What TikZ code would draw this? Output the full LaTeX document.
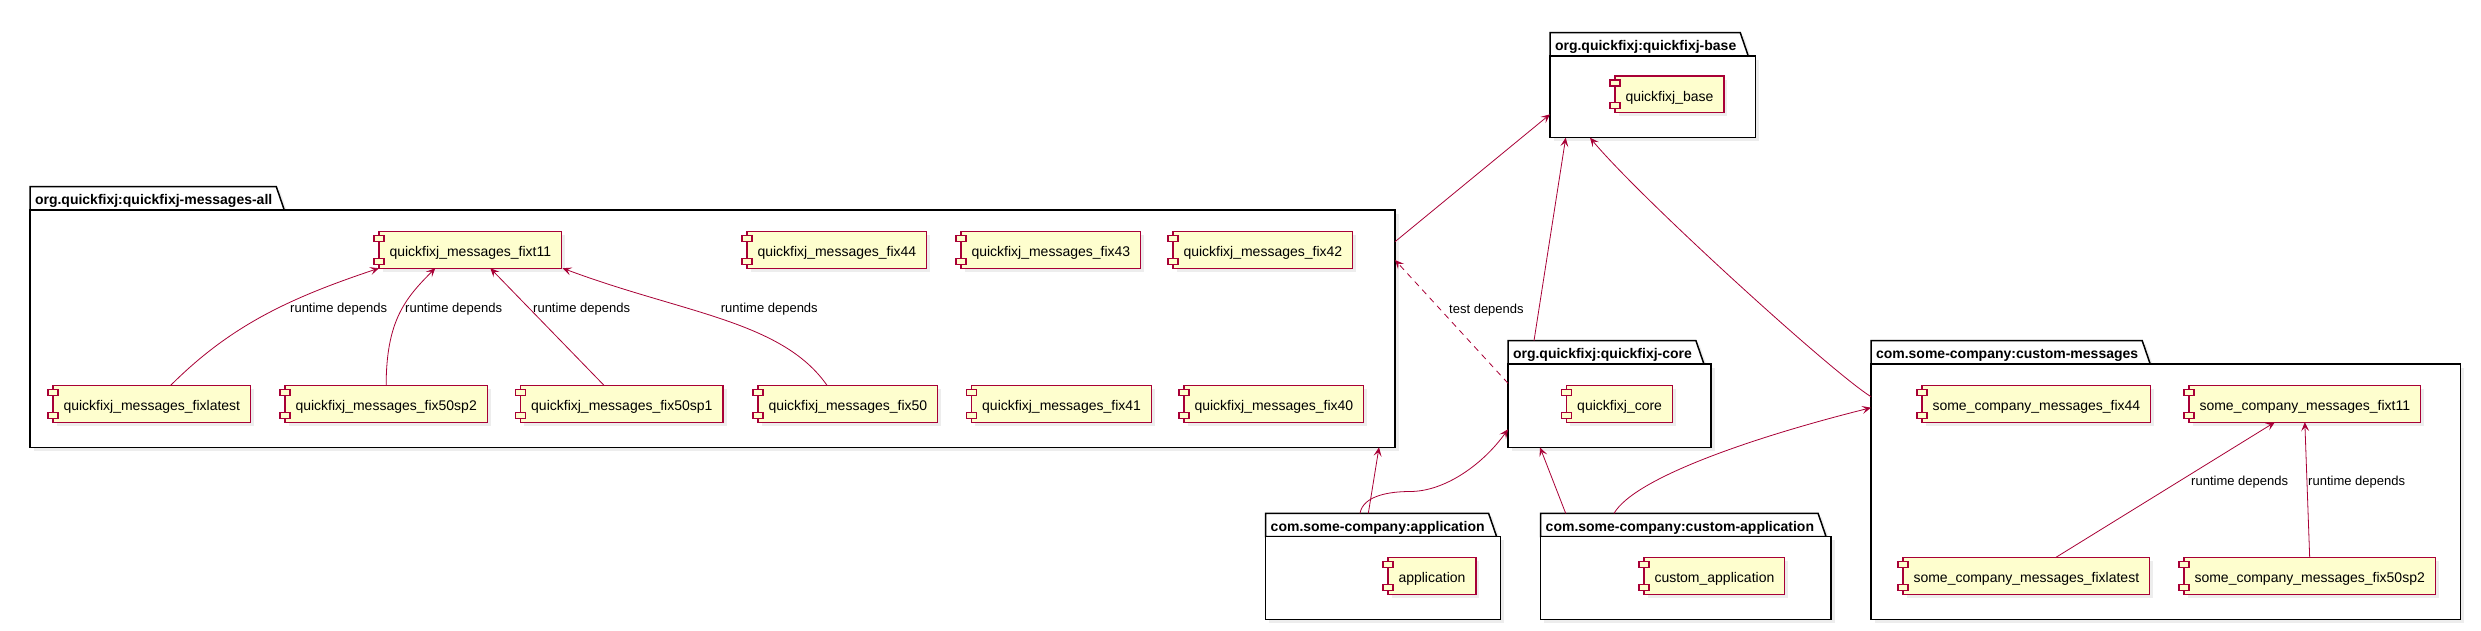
\documentclass[tikz,border=0pt]{standalone}
\usepackage{fontspec}
\setmainfont{Liberation Sans}
\usepackage{tikz}
\usetikzlibrary{arrows.meta,shadows,backgrounds}

\definecolor{umlred}{HTML}{A80036}
\definecolor{umlfill}{HTML}{FEFECE}

\tikzset{
  umlshadow/.style={drop shadow={shadow xshift=3.5pt,shadow yshift=-3.5pt,opacity=.14}},
  comp/.style={draw=umlred,fill=umlfill,line width=1.1pt,anchor=north west,
    minimum height=36.5pt,inner xsep=10.5pt,inner ysep=0pt,outer sep=0pt,
    text height=13.6pt,text depth=0pt,font=\fontsize{14}{16}\selectfont,umlshadow},
  lug/.style={draw=umlred,fill=umlfill,line width=1.1pt},
  pkg/.style={draw,fill=white,line width=1.5pt,anchor=north west,outer sep=0pt,umlshadow},
  pkgtab/.style={anchor=south west,inner xsep=5pt,inner ysep=0pt,outer sep=0pt,
    minimum height=23.3pt,text height=12pt,text depth=0pt,
    font=\bfseries\fontsize{14}{16}\selectfont},
  dep/.style={draw=umlred,line width=.8pt,-{Stealth[length=9pt,width=8pt,inset=4pt]}},
  lbl/.style={anchor=base west,inner sep=0pt,font=\fontsize{13}{15}\selectfont},
}

\begin{document}
\begin{tikzpicture}[x=1pt,y=-1pt]
        \useasboundingbox (0,0) rectangle (2481,630);

        % packages
        \node (pallt) [pkgtab] at (30,210) {org.quickfixj:quickfixj-messages-all};
        \node (pall) [pkg, minimum width=1365pt, minimum height=237.3pt] at (30,210) {};

        \node (pbaset) [pkgtab] at (1550,56) {org.quickfixj:quickfixj-base};
        \node (pbase) [pkg, minimum width=205.7pt, minimum height=81.7pt] at (1550,56) {};

        \node (pcoret) [pkgtab] at (1508,364) {org.quickfixj:quickfixj-core};
        \node (pcore) [pkg, minimum width=203pt, minimum height=83.3pt] at (1508,364) {};

        \node (pappt) [pkgtab] at (1265.7,536.7) {com.some-company:application};
        \node (papp) [pkg, minimum width=235pt, minimum height=82.6pt] at (1265.7,536.7) {};

        \node (pcappt) [pkgtab] at (1540.7,536.7) {com.some-company:custom-application};
        \node (pcapp) [pkg, minimum width=290.3pt, minimum height=82.6pt] at (1540.7,536.7) {};

        \node (pcmsgt) [pkgtab] at (1871,364) {com.some-company:custom-messages};
        \node (pcmsg) [pkg, minimum width=589.7pt, minimum height=255.3pt] at (1871,364) {};

        % folder tabs
        \begin{scope}[on background layer]
          \foreach \t in {pallt,pbaset,pcoret,pappt,pcappt,pcmsgt}
            \draw [line width=1.5pt, fill=white, umlshadow] (\t.south west) -- (\t.north west)
              -- ([xshift=-1pt]\t.north east) -- ([xshift=7pt]\t.south east) -- cycle;
        \end{scope}

        % quickfixj-messages-all
        \node (mfixt11) [comp] at (379,231.7) {quickfixj\_messages\_fixt11};
        \node (mfix44) [comp] at (747,231.7) {quickfixj\_messages\_fix44};
        \node (mfix43) [comp] at (961,231.7) {quickfixj\_messages\_fix43};
        \node (mfix42) [comp] at (1173,231.7) {quickfixj\_messages\_fix42};
        \node (mfixlatest) [comp] at (53,385.7) {quickfixj\_messages\_fixlatest};
        \node (mfix50sp2) [comp] at (285,385.7) {quickfixj\_messages\_fix50sp2};
        \node (mfix50sp1) [comp] at (520.7,385.7) {quickfixj\_messages\_fix50sp1};
        \node (mfix50) [comp] at (758,385.7) {quickfixj\_messages\_fix50};
        \node (mfix41) [comp] at (971.7,385.7) {quickfixj\_messages\_fix41};
        \node (mfix40) [comp] at (1184,385.7) {quickfixj\_messages\_fix40};

        % base, core, applications
        \node (cbase) [comp] at (1615,76) {quickfixj\_base};
        \node (ccore) [comp] at (1566.7,385.7) {quickfixj\_core};
        \node (capp) [comp] at (1388,557.7) {application};
        \node (ccustom) [comp] at (1644,557.7) {custom\_application};

        % custom-messages
        \node (sfix44) [comp] at (1922,385.7) {some\_company\_messages\_fix44};
        \node (sfixt11) [comp] at (2189,385.7) {some\_company\_messages\_fixt11};
        \node (sfixlatest) [comp] at (1903,557.7) {some\_company\_messages\_fixlatest};
        \node (sfix50sp2) [comp] at (2184,557.7) {some\_company\_messages\_fix50sp2};

        % component lugs
        \foreach \c in {mfixt11,mfix44,mfix43,mfix42,mfixlatest,mfix50sp2,mfix50sp1,mfix50,
            mfix41,mfix40,cbase,ccore,capp,ccustom,sfix44,sfixt11,sfixlatest,sfix50sp2} {
          \draw [lug] ([xshift=-5pt,yshift=-4pt]\c.north west) rectangle ++(10pt,-6pt);
          \draw [lug] ([xshift=-5pt,yshift=4pt]\c.south west) rectangle ++(10pt,6pt);
        }

        % runtime depends inside messages-all
        \draw [dep] ([xshift=18.5pt]mfixlatest.north) .. controls +(60,-60) and +(-90,30) .. (mfixt11.south west);
        \draw [dep] (mfix50sp2.north) .. controls +(0,-65) and +(-30,30) .. ([xshift=-35pt]mfixt11.south);
        \draw [dep] ([xshift=-17.5pt]mfix50sp1.north) -- ([xshift=20pt]mfixt11.south);
        \draw [dep] ([xshift=-20.6pt]mfix50.north) .. controls +(-45,-65) and +(120,45) .. ([xshift=1pt]mfixt11.south east);
        \node (lfixlatest) [lbl] at (290,312.7) {runtime depends};
        \node (lfix50sp2) [lbl] at (405,312.7) {runtime depends};
        \node (lfix50sp1) [lbl] at (533,312.7) {runtime depends};
        \node (lfix50) [lbl] at (720.7,312.7) {runtime depends};

        % runtime depends inside custom-messages
        \draw [dep] ([xshift=29pt]sfixlatest.north) -- ([xshift=-30pt]sfixt11.south);
        \draw [dep] (sfix50sp2.north) -- (sfixt11.south);
        \node (lsfixlatest) [lbl] at (2191,485) {runtime depends};
        \node (lsfix50sp2) [lbl] at (2308,485) {runtime depends};

        % package dependencies
        \draw [dep] ([yshift=-31.7pt]pall.north east) -- ([yshift=23.4pt]pbase.south west);
        \draw [dep] ([xshift=26pt]pcoret.north west) -- ([xshift=15.7pt]pbase.south west);
        \draw [dep] ([yshift=-32.7pt]pcmsg.north west) .. controls +(-40,-25) and +(50,60) .. ([xshift=40pt]pbase.south west);
        \draw [dep, dash pattern=on 6pt off 5pt] ([yshift=-19.3pt]pcore.north west) -- ([yshift=-50pt]pall.north east);
        \node (ltest) [lbl] at (1449,313) {test depends};
        \draw [dep] ([xshift=102.6pt]pappt.north west) -- ([xshift=-16pt]pall.south east);
        \draw [dep] ([xshift=94.3pt]pappt.north west) .. controls +(3,-18) and +(-20,0) .. (1410,491.5)
          .. controls +(35,0) and +(-25,35) .. ([yshift=18pt]pcore.south west);
        \draw [dep] ([xshift=25pt]pcappt.north west) -- ([xshift=32pt]pcore.south west);
        \draw [dep] ([xshift=73.3pt]pcappt.north west) .. controls +(20,-35) and +(-120,30) .. ([yshift=-43.7pt]pcmsg.north west);

      \end{tikzpicture}
\end{document}
